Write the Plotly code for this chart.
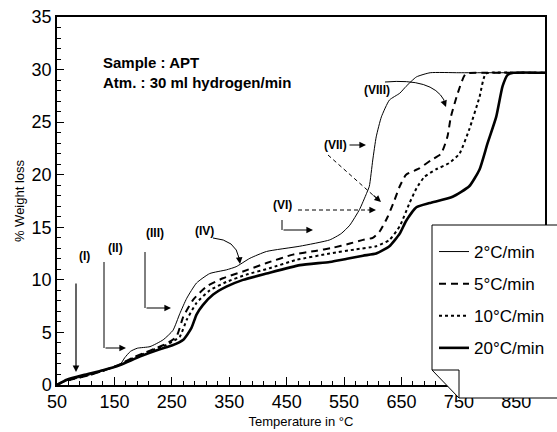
import plotly.graph_objects as go

# ---------------- data ----------------
series_names = ["2°C/min", "5°C/min", "10°C/min", "20°C/min"]

x_2 = [50, 60, 80, 100, 130, 160, 168, 178, 190, 212, 235, 252, 264, 276, 293, 316, 345, 362, 386,
       415, 473, 525, 545, 560, 577, 589, 594, 600, 606, 615, 629, 647, 658, 676, 700, 750, 800, 850, 900]
y_2 = [0, 0.3, 0.6, 0.85, 1.35, 1.95, 2.6, 3.2, 3.5, 3.65, 4.3, 5.2, 6.8, 8.25, 9.7, 10.6, 10.95, 11.25, 12.05,
       12.7, 13.2, 13.8, 14.4, 15.2, 16.7, 18.2, 18.9, 21.4, 23.6, 25.5, 27.1, 27.75, 28.4, 29.3, 29.7, 29.7,
       29.7, 29.7, 29.7]

x_5 = [50, 60, 80, 100, 130, 160, 180, 200, 220, 240, 258, 270, 287, 310, 339, 374, 415, 461, 500, 530,
       560, 583, 600, 612, 626, 638, 647, 658, 681, 702, 719, 730, 736, 748, 762, 800, 850, 900]
y_5 = [0, 0.3, 0.6, 0.85, 1.35, 1.95, 2.55, 3.0, 3.45, 3.9, 4.6, 6.5, 8.1, 9.35, 10.15, 10.8, 11.6, 12.4, 12.75,
       13.05, 13.45, 13.8, 14.0, 14.6, 16.0, 17.6, 18.9, 20.0, 20.6, 21.4, 22.0, 23.6, 25.5, 27.75, 29.6, 29.7,
       29.7, 29.7]

x_10 = [50, 60, 80, 100, 130, 160, 180, 200, 220, 240, 252, 264, 276, 293, 316, 345, 380, 420, 467, 525,
        570, 606, 629, 647, 664, 676, 690, 710, 733, 751, 768, 786, 797, 850, 900]
y_10 = [0, 0.3, 0.6, 0.85, 1.35, 1.95, 2.5, 2.95, 3.4, 3.8, 4.15, 4.6, 6.2, 7.8, 9.0, 9.8, 10.5, 11.1, 11.9,
        12.5, 12.9, 13.2, 13.8, 15.1, 17.3, 18.7, 19.8, 20.5, 21.1, 22.0, 24.3, 27.4, 29.6, 29.7, 29.7]

x_20 = [50, 67, 96, 130, 160, 194, 229, 250, 270, 284, 293, 304, 322, 345, 374, 415, 473, 525, 555, 583,
        606, 629, 647, 658, 676, 699, 739, 768, 786, 800, 815, 826, 835, 845, 900]
y_20 = [0, 0.5, 0.95, 1.4, 1.9, 2.7, 3.4, 3.75, 4.3, 5.4, 6.7, 7.6, 8.6, 9.35, 10.0, 10.6, 11.4, 11.7, 12.0,
        12.3, 12.5, 13.2, 14.4, 15.6, 16.9, 17.3, 17.9, 18.9, 20.5, 23.0, 25.5, 28.4, 29.5, 29.7, 29.7]

x_ticks = [50, 150, 250, 350, 450, 550, 650, 750, 850]
y_ticks = [0, 5, 10, 15, 20, 25, 30, 35]

info_lines = ["Sample : APT", "Atm. : 30 ml hydrogen/min"]
stage_labels = ["(I)", "(II)", "(III)", "(IV)", "(VI)", "(VII)", "(VIII)"]

# ---------------- figure ----------------
W, H = 557, 432
L, R, T, B = 57, 12, 17, 47
PW, PH = W - L - R, H - T - B


def P(px, py):
    """pixel position -> paper coordinates"""
    return (px - L) / PW, (H - B - py) / PH


FONT = "Liberation Sans, Arial, sans-serif"

fig = go.Figure()
styles = [dict(width=1, dash="solid"),
          dict(width=2, dash="7px,5px"),
          dict(width=2, dash="dot"),
          dict(width=2.6, dash="solid")]
for name, xs, ys, st in zip(series_names, [x_2, x_5, x_10, x_20], [y_2, y_5, y_10, y_20], styles):
    fig.add_trace(go.Scatter(x=xs, y=ys, mode="lines", name=name, legendgroup=name,
                             line=dict(color="black", shape="spline", smoothing=0.5, **st)))

shapes = []
annotations = []

# legend box with folded corner
bx0, by0, bx1, by1 = P(432, 225) + P(562, 398)
fx, fy = P(459, 370)
shapes.append(dict(type="path", xref="paper", yref="paper", layer="above",
                   path=f"M{bx0},{by0} L{bx1},{by0} L{bx1},{by1} L{fx},{by1} L{bx0},{fy} Z",
                   fillcolor="white", line=dict(color="black", width=1)))
shapes.append(dict(type="path", xref="paper", yref="paper", layer="above",
                   path=f"M{bx0},{fy} L{fx},{fy} L{fx},{by1}",
                   line=dict(color="black", width=1)))


def seg(p1, p2, dash="solid"):
    a, b = P(*p1), P(*p2)
    shapes.append(dict(type="line", xref="paper", yref="paper", x0=a[0], y0=a[1], x1=b[0], y1=b[1],
                       line=dict(color="black", width=1, dash=dash)))


def curve(p1, c, p2):
    a, m, b = P(*p1), P(*c), P(*p2)
    shapes.append(dict(type="path", xref="paper", yref="paper",
                       path=f"M{a[0]},{a[1]} Q{m[0]},{m[1]} {b[0]},{b[1]}",
                       line=dict(color="black", width=1)))


def arrow(tip, tail):
    t = P(*tip)
    annotations.append(dict(x=t[0], y=t[1], xref="paper", yref="paper", text="",
                            showarrow=True, arrowhead=2, arrowsize=1.1, arrowwidth=1.2,
                            arrowcolor="black", ax=tail[0] - tip[0], ay=tail[1] - tip[1],
                            standoff=0, startstandoff=0))


def label(text, px, py, size=12):
    p = P(px, py)
    annotations.append(dict(x=p[0], y=p[1], xref="paper", yref="paper", text=f"<b>{text}</b>",
                            showarrow=False, font=dict(family=FONT, size=size, color="black")))


# info text
for i, t in enumerate(info_lines):
    p = P(101, 52 + 20 * i)
    annotations.append(dict(x=p[0], y=p[1], xref="paper", yref="paper", xanchor="left",
                            text=f"<b>{t}</b>", showarrow=False,
                            font=dict(family=FONT, size=15, color="black")))

# stage labels and arrows
pos = [(77, 265), (106, 248), (144, 233), (193, 231), (282, 205), (335, 145), (377, 81)]
for t, (px, py) in zip(stage_labels, pos):
    label(t, px, py)

arrow((76, 372), (76, 282))                       # I
seg((104, 262), (104, 348)); arrow((126, 348), (104, 348))   # II
seg((145, 252), (145, 308)); arrow((171, 308), (145, 308))   # III
curve((213, 238), (236, 240), (239, 258)); arrow((240, 264), (239, 256))  # IV
seg((298, 210), (368, 210), "4px,3px"); arrow((376, 210), (366, 210))     # VI dashed
seg((282, 220), (282, 230)); arrow((313, 230), (282, 230))                # VI solid
arrow((366, 145), (348, 145))                                              # VII solid
seg((328, 155), (374, 196), "4px,3px"); arrow((381, 202), (372, 194))     # VII dashed
curve((385, 82), (432, 78), (444, 100)); arrow((446, 107), (443, 99))     # VIII

fig.update_layout(
    width=W, height=H, margin=dict(l=L, r=R, t=T, b=B, autoexpand=False),
    paper_bgcolor="white", plot_bgcolor="white",
    font=dict(family=FONT, color="black"),
    shapes=shapes, annotations=annotations,
    showlegend=True,
    legend=dict(x=P(434, 0)[0], y=P(0, 234)[1], xanchor="left", yanchor="top",
                bgcolor="rgba(0,0,0,0)", borderwidth=0, traceorder="grouped",
                tracegroupgap=7, font=dict(family=FONT, size=17, color="black")),
    xaxis=dict(range=[50, 900], tickvals=x_ticks, ticks="inside", ticklen=8, tickwidth=1,
               tickcolor="black", showgrid=False, zeroline=False, showline=True, linecolor="black",
               linewidth=1.5, mirror=True, tickfont=dict(size=18), automargin=False,
               ticklabelstandoff=0,
               minor=dict(dtick=20, tick0=50, ticks="inside", ticklen=4, tickcolor="black", showgrid=False),
               title=dict(text="Temperature in °C", font=dict(size=13), standoff=6)),
    yaxis=dict(range=[0, 35], tickvals=y_ticks, ticks="inside", ticklen=7, tickwidth=1,
               tickcolor="black", showgrid=False, zeroline=False, showline=True, linecolor="black",
               linewidth=1.5, mirror=True, tickfont=dict(size=18), automargin=False,
               minor=dict(dtick=1, ticks="inside", ticklen=4, tickcolor="black", showgrid=False),
               title=dict(text="% Weight loss", font=dict(size=13), standoff=4)),
)

fig.write_html("out.html")
